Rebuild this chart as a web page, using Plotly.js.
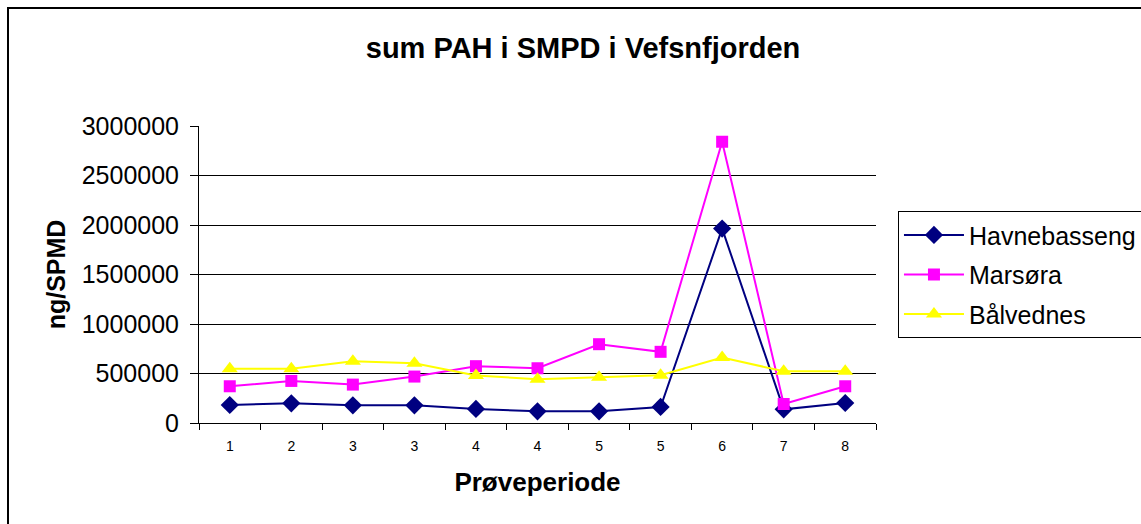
<!DOCTYPE html>
<html>
<head>
<meta charset="utf-8">
<script src="https://cdn.plot.ly/plotly-3.0.1.min.js"></script>
<style>
  html, body { margin: 0; padding: 0; background: #fff; overflow: hidden; }
  #chart { width: 1141px; height: 524px; }
  #frame { position: absolute; left: 7px; top: 7px; width: 2000px; height: 2000px;
           border: 2px solid #000; pointer-events: none; }
</style>
</head>
<body>
<div id="chart"></div>
<div id="frame"></div>
<script>
const periods = ['1', '2', '3', '3', '4', '4', '5', '5', '6', '7', '8'];
const havnebasseng = [182000, 199000, 179000, 179000, 142000, 118000, 118000, 162000, 1964000, 138000, 202000];
const marsora      = [371000, 425000, 388000, 469000, 574000, 553000, 796000, 719000, 2841000, 192000, 371000];
const balvednes    = [547000, 547000, 624000, 604000, 479000, 442000, 462000, 483000, 661000, 523000, 523000];
const yTicks = [0, 500000, 1000000, 1500000, 2000000, 2500000, 3000000];

const idx = periods.map((_, i) => i);
const bounds = periods.map((_, i) => i - 0.5).concat([periods.length - 0.5]);
const FONT = 'Arial, "Liberation Sans", sans-serif';

const traces = [
  { name: 'Havnebasseng', x: idx, y: havnebasseng, type: 'scatter', mode: 'lines+markers',
    legendgroup: 'a', line: { color: '#000080', width: 2 },
    marker: { symbol: 'diamond', size: 14, color: '#000080' } },
  { name: 'Marsøra', x: idx, y: marsora, type: 'scatter', mode: 'lines+markers',
    legendgroup: 'b', line: { color: '#FF00FF', width: 2 },
    marker: { symbol: 'square', size: 12, color: '#FF00FF' } },
  { name: 'Bålvednes', x: idx, y: balvednes, type: 'scatter', mode: 'lines+markers',
    legendgroup: 'c', line: { color: '#FFFF00', width: 2 },
    marker: { symbol: 'triangle-up', size: 14, color: '#FFFF00' } },
  { x: [], y: [], xaxis: 'x2', type: 'scatter', showlegend: false, hoverinfo: 'skip' }
];

const layout = {
  width: 1141, height: 524,
  margin: { l: 199, r: 265, t: 126, b: 101 },
  paper_bgcolor: '#fff', plot_bgcolor: '#fff',
  font: { family: FONT, color: '#000' },
  title: { text: '<b>sum PAH i SMPD i Vefsnfjorden</b>', font: { size: 29, family: FONT, color: '#000' },
           xref: 'container', x: 0.511, xanchor: 'center', yref: 'container', y: 0.908, yanchor: 'middle' },
  xaxis: {
    range: [-0.5, periods.length - 0.5], tickvals: idx, ticktext: periods,
    ticks: '', showgrid: false, zeroline: false, showline: true, linecolor: '#000', linewidth: 1,
    tickfont: { size: 14, family: FONT, color: '#000' }, ticklabelstandoff: 10,
    title: { text: '<b>Prøveperiode</b>', font: { size: 26, family: FONT, color: '#000' }, standoff: 20 }
  },
  xaxis2: {
    overlaying: 'x', range: [-0.5, periods.length - 0.5], tickvals: bounds,
    ticks: 'outside', ticklen: 6, tickcolor: '#000', showticklabels: false,
    showgrid: false, zeroline: false, showline: false
  },
  yaxis: {
    range: [0, 3000000], tickvals: yTicks, tickformat: 'd',
    ticks: 'outside', ticklen: 8, tickcolor: '#000',
    showgrid: true, gridcolor: '#000', gridwidth: 1, zeroline: false,
    showline: true, linecolor: '#000', linewidth: 1,
    tickfont: { size: 25, family: FONT, color: '#000' }, ticklabelstandoff: 6,
    title: { text: '<b>ng/SPMD</b>', font: { size: 25, family: FONT, color: '#000' }, standoff: 8 }
  },
  legend: {
    xref: 'container', yref: 'container',
    x: 0.787, xanchor: 'left', y: 0.597, yanchor: 'top',
    bordercolor: '#000', borderwidth: 1, bgcolor: '#fff',
    font: { size: 25, family: FONT, color: '#000' },
    traceorder: 'grouped', tracegroupgap: 4, itemwidth: 60
  },
  showlegend: true
};

Plotly.newPlot('chart', traces, layout, { displayModeBar: false, staticPlot: true });
</script>
</body>
</html>
